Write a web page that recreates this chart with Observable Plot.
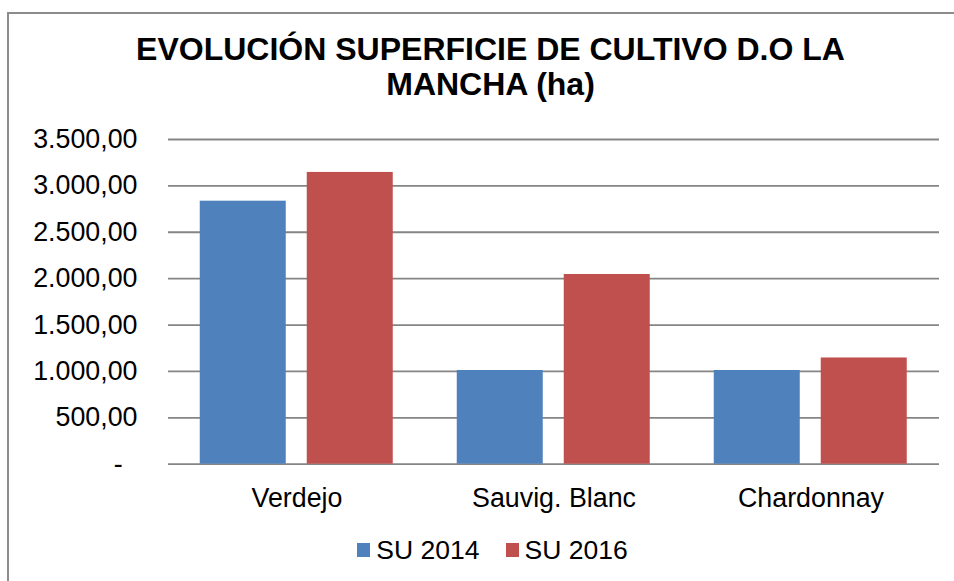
<!DOCTYPE html>
<html>
<head>
<meta charset="utf-8">
<script src="https://cdn.jsdelivr.net/npm/d3@7"></script>
<script src="https://cdn.jsdelivr.net/npm/@observablehq/plot@0.6"></script>
<style>
  html, body { margin: 0; padding: 0; background: #fff; }
  body { position: relative; width: 954px; height: 581px; overflow: hidden; font-family: "Liberation Sans", Arial, sans-serif; }
  #chart { position: absolute; left: 0; top: 0; }
  #frame { position: absolute; left: 7px; top: 12px; width: 1000px; height: 1000px; border-left: 2px solid #8c8c8c; border-top: 2px solid #8c8c8c; pointer-events: none; }
  #title { position: absolute; left: 0; top: 32.4px; width: 981px; text-align: center; font-weight: bold; font-size: 32px; line-height: 35px; color: #000; }
  #legend { position: absolute; left: 0; top: 532px; width: 985px; display: flex; justify-content: center; align-items: center; font-size: 26.5px; line-height: 36px; color: #000; }
  .item { display: flex; align-items: center; margin: 0 13px; }
  .sw { width: 13px; height: 14px; margin-right: 6px; }
</style>
</head>
<body>
<div id="chart"></div>
<div id="title">EVOLUCIÓN SUPERFICIE DE CULTIVO D.O LA<br>MANCHA (ha)</div>
<div id="legend"></div>
<div id="frame"></div>
<script>
const categories = ["Verdejo", "Sauvig. Blanc", "Chardonnay"];
const series = ["SU 2014", "SU 2016"];
const su2014 = [2835, 1010, 1010];
const su2016 = [3145, 2045, 1145];
const yTicks = [0, 500, 1000, 1500, 2000, 2500, 3000, 3500];

const seriesValues = [su2014, su2016];
const data = [];
categories.forEach((c, i) => {
  series.forEach((s, j) => data.push({cat: c, series: s, value: seriesValues[j][i]}));
});

const locale = d3.formatLocale({decimal: ",", thousands: ".", grouping: [3], currency: ["", " €"]});
const num = locale.format(",.2f");
const fmt = d => d === 0 ? "-\u2007" : num(d);

const palette = ["#4F81BD", "#C0504D"];

const chart = Plot.plot({
  width: 954,
  height: 520,
  marginTop: 139,
  marginBottom: 56.3,
  marginLeft: 167.25,
  marginRight: 14.5,
  style: {fontSize: "26.8px", fontFamily: "'Liberation Sans', Arial, sans-serif", color: "#000", background: "transparent"},
  fx: {domain: categories, paddingInner: 0, paddingOuter: 0, axis: "bottom", tickSize: 0, tickPadding: 24, label: null},
  x: {domain: series, axis: null, paddingInner: 0.2, paddingOuter: 0.2977},
  y: {domain: [0, 3500], ticks: yTicks, tickFormat: fmt, tickSize: 0, tickPadding: 31, label: null},
  color: {domain: series, range: palette},
  marks: [
    Plot.ruleY(yTicks, {stroke: "#858585", strokeWidth: 1.8}),
    Plot.barY(data, {fx: "cat", x: "series", y: "value", fill: "series"})
  ]
});
document.getElementById("chart").appendChild(chart);

const legend = document.getElementById("legend");
series.forEach((s, j) => {
  const item = document.createElement("div");
  item.className = "item";
  const sw = document.createElement("div");
  sw.className = "sw";
  sw.style.background = palette[j];
  const t = document.createElement("span");
  t.textContent = s;
  item.appendChild(sw);
  item.appendChild(t);
  legend.appendChild(item);
});
</script>
</body>
</html>
